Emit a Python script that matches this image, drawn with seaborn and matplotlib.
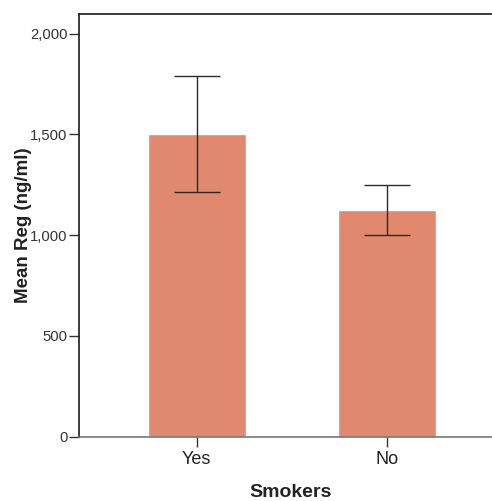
import matplotlib
matplotlib.use("Agg")
import matplotlib.pyplot as plt
import seaborn as sns
import pandas as pd
import numpy as np
from matplotlib.ticker import FuncFormatter

# Mean Reg per smoking group with confidence bounds
groups = ["Yes", "No"]
means = [1502, 1125]
ci_low = [1214, 1001]
ci_high = [1792, 1250]

sns.set_theme(style="white")
plt.rcParams["font.family"] = ["Liberation Sans", "DejaVu Sans"]

df = pd.DataFrame({"Smokers": groups, "Mean": means})

fig = plt.figure(figsize=(4.92, 5.01), dpi=100)
ax = fig.add_axes([0.1596, 0.1283, 0.8404, 0.8447])

sns.barplot(data=df, x="Smokers", y="Mean", order=groups, color="#E0896E",
            saturation=1, width=0.513, errorbar=None, ax=ax)

x = np.arange(len(groups))
m = np.array(means)
yerr = np.vstack([m - np.array(ci_low), np.array(ci_high) - m])
ax.errorbar(x, m, yerr=yerr, fmt="none", ecolor="#2a2a2a", elinewidth=1.0,
            capsize=16.5, capthick=1.0)

ax.set_xlim(-0.62, 1.55)
ax.set_ylim(0, 2100)
ax.set_yticks([0, 500, 1000, 1500, 2000])
ax.yaxis.set_major_formatter(FuncFormatter(lambda v, p: f"{int(v):,}"))

ax.set_xlabel("Smokers", fontsize=14, fontweight="bold", color="#222222")
ax.set_ylabel("Mean Reg (ng/ml)", fontsize=13.5, fontweight="bold", color="#222222")
ax.xaxis.set_label_coords(0.514, -0.132)
ax.yaxis.set_label_coords(-0.134, 0.5)
ax.xaxis.label.set_verticalalignment("center")
ax.yaxis.label.set_verticalalignment("center")

ax.tick_params(axis="y", which="major", left=True, length=7, width=1, color="#333333",
               labelsize=10.7, labelcolor="#333333", pad=1)
ax.tick_params(axis="x", which="major", bottom=True, length=7, width=1, color="#333333",
               labelsize=13, labelcolor="#222222", pad=3)

for side in ["left", "top"]:
    ax.spines[side].set_color("#1a1a1a")
    ax.spines[side].set_linewidth(1.2)
ax.spines["bottom"].set_color("#777777")
ax.spines["bottom"].set_linewidth(1.2)
ax.spines["right"].set_visible(False)

fig.savefig("out.png", dpi=100)
